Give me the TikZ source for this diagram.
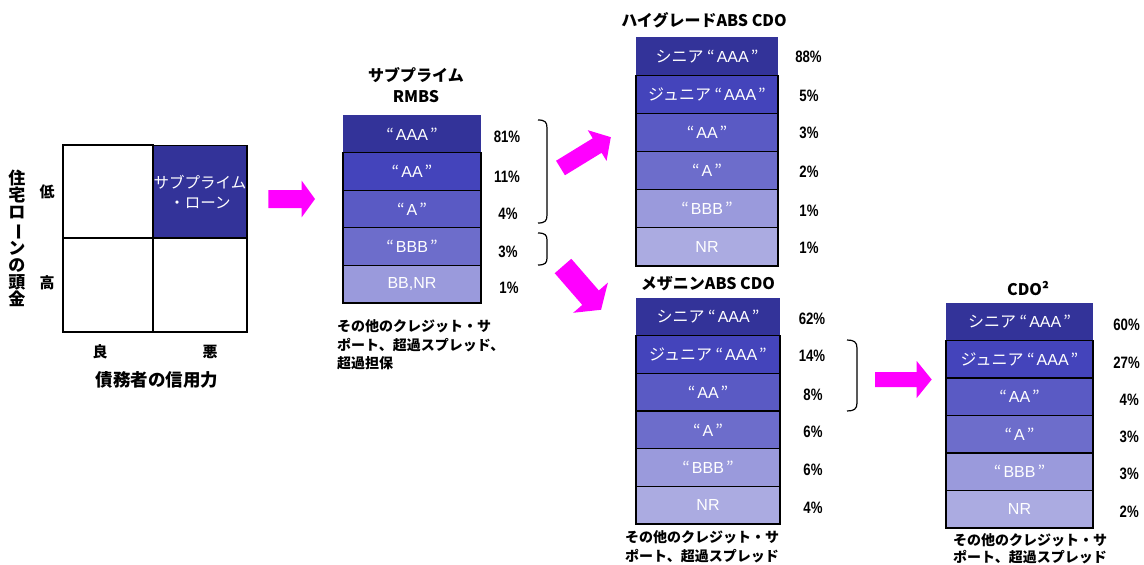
\documentclass[tikz,border=0pt]{standalone}
\usepackage{fontspec}
\setmainfont{Noto Sans CJK JP}
\newfontfamily\pctfont{Liberation Sans}[FakeStretch=0.8]
\newfontfamily\latfont{Liberation Sans}
\usepackage{graphicx}
\definecolor{tA}{HTML}{333399}
\definecolor{tB}{HTML}{4444BB}
\definecolor{tC}{HTML}{5A5AC4}
\definecolor{tD}{HTML}{6D6DCB}
\definecolor{tE}{HTML}{9A9ADC}
\definecolor{tF}{HTML}{ABABE1}
\definecolor{arrowmag}{HTML}{FF00FF}
\newcommand\blockarrow[7]{\fill[arrowmag, shift={(#1,#2)}, rotate=#3] (0,-#5/2) -- (#4-#7,-#5/2) -- (#4-#7,-#6/2) -- (#4,0) -- (#4-#7,#6/2) -- (#4-#7,#5/2) -- (0,#5/2) -- cycle;}
\newcommand\q[1]{“\hspace{2pt}{\latfont #1}\hspace{2pt}”}
\begin{document}
\begin{tikzpicture}[x=1pt,y=-1pt,
  tranche/.style={rectangle, draw=black, line width=1.2pt, inner sep=0pt, text=white, font=\fontsize{16}{18}\selectfont},
  toptr/.style={tranche, draw=none},
  rm/.style={minimum width=138pt, minimum height=37.6pt},
  hg/.style={minimum width=142pt, minimum height=38.17pt},
  mz/.style={minimum width=144pt, minimum height=37.67pt},
  cd/.style={minimum width=147pt, minimum height=37.5pt},
  pct/.style={inner sep=0pt, font=\pctfont\bfseries\fontsize{16.5}{18}\selectfont},
  ttl/.style={inner sep=0pt, font=\bfseries\fontsize{16}{19}\selectfont},
  note/.style={inner sep=0pt, anchor=west, font=\bfseries\fontsize{14}{16}\selectfont},
  axlab/.style={inner sep=0pt, font=\bfseries\fontsize{15}{17}\selectfont},
  cell/.style={rectangle, draw=black, line width=1.5pt, inner sep=0pt},
  brk/.style={draw=black, line width=1.2pt}
]
\useasboundingbox (0,0) rectangle (1144,565);

% ---------- grid ----------
\node[cell, minimum width=90pt, minimum height=93pt] (c11) at (108,191.5) {};
\node[cell, minimum width=94pt, minimum height=93pt, fill=tA, text=white, align=center,
      font=\fontsize{15.5}{20}\selectfont] (c12) at (200,192) {サブプライム\\・ローン};
\node[cell, minimum width=90pt, minimum height=94pt] (c21) at (108,285) {};
\node[cell, minimum width=94pt, minimum height=94pt] (c22) at (200,285) {};
\node[axlab] (low) at (47,192) {低};
\node[axlab] (high) at (47,283) {高};
\node[axlab] (good) at (100,352) {良};
\node[axlab] (bad) at (210,352) {悪};
\node[inner sep=0pt, font=\bfseries\fontsize{17.5}{19}\selectfont] (xlab) at (157,380) {債務者の信用力};
\node[inner sep=0pt, align=center, font=\bfseries\fontsize{17}{17.1}\selectfont] (ylab) at (17,238.5)
  {住\\宅\\ロ\\\rotatebox[origin=c]{-90}{ー}\\ン\\の\\頭\\金};

% ---------- arrows ----------
\blockarrow{268.3}{199}{0}{46.7}{18}{36.6}{13.3}
\blockarrow{560.5}{168}{31.5}{59}{17}{36}{16}
\blockarrow{563}{266}{-49}{58}{22}{46}{16}
\blockarrow{875}{379.5}{0}{56.7}{15}{37}{15}

% ---------- RMBS ----------
\node[ttl] (rmt1) at (416,75) {サブプライム};
\node[ttl] (rmt2) at (416,97) {RMBS};
\node[toptr, rm, fill=tA] (rm1) at (412,133.8) {\q{AAA}};
\node[tranche, rm, fill=tB] (rm2) at (412,171.4) {\q{AA}};
\node[tranche, rm, fill=tC] (rm3) at (412,209.0) {\q{A}};
\node[tranche, rm, fill=tD] (rm4) at (412,246.6) {\q{BBB}};
\node[tranche, rm, fill=tE, font=\latfont\fontsize{16}{18}\selectfont] (rm5) at (412,284.2) {BB,NR};
\node[pct] (rmp1) at (507,137) {81\%};
\node[pct] (rmp2) at (507,177) {11\%};
\node[pct] (rmp3) at (508,214) {4\%};
\node[pct] (rmp4) at (508,252) {3\%};
\node[pct] (rmp5) at (509,288) {1\%};
\node[note] (rmn1) at (337,326.5) {その他のクレジット・サ};
\node[note] (rmn2) at (337,345) {ポート、超過スプレッド、};
\node[note] (rmn3) at (337,363.5) {超過担保};
\draw[brk] (538,120) .. controls (545,120) and (547,122) .. (547,128) -- (547,215) .. controls (547,221) and (545,223) .. (538,223);
\draw[brk] (538,233) .. controls (545,233) and (547,235) .. (547,240) -- (547,258) .. controls (547,263) and (545,265) .. (538,265);

% ---------- High grade ABS CDO ----------
\node[ttl] (hgt) at (704,20) {ハイグレードABS CDO};
\node[toptr, hg, fill=tA] (hg1) at (707,56.1) {シニア \q{AAA}};
\node[tranche, hg, fill=tB] (hg2) at (707,94.25) {ジュニア \q{AAA}};
\node[tranche, hg, fill=tC] (hg3) at (707,132.4) {\q{AA}};
\node[tranche, hg, fill=tD] (hg4) at (707,170.6) {\q{A}};
\node[tranche, hg, fill=tE] (hg5) at (707,208.75) {\q{BBB}};
\node[tranche, hg, fill=tF, font=\latfont\fontsize{16}{18}\selectfont] (hg6) at (707,246.9) {NR};
\node[pct] (hgp1) at (808.5,57) {88\%};
\node[pct] (hgp2) at (809,96) {5\%};
\node[pct] (hgp3) at (809,133) {3\%};
\node[pct] (hgp4) at (809,172) {2\%};
\node[pct] (hgp5) at (809,211) {1\%};
\node[pct] (hgp6) at (809,248) {1\%};

% ---------- Mezzanine ABS CDO ----------
\node[ttl] (mzt) at (708,284) {メザニンABS CDO};
\node[toptr, mz, fill=tA] (mz1) at (708,316.8) {シニア \q{AAA}};
\node[tranche, mz, fill=tB] (mz2) at (708,354.5) {ジュニア \q{AAA}};
\node[tranche, mz, fill=tC] (mz3) at (708,392.2) {\q{AA}};
\node[tranche, mz, fill=tD] (mz4) at (708,429.8) {\q{A}};
\node[tranche, mz, fill=tE] (mz5) at (708,467.5) {\q{BBB}};
\node[tranche, mz, fill=tF, font=\latfont\fontsize{16}{18}\selectfont] (mz6) at (708,505.2) {NR};
\node[pct] (mzp1) at (812,319) {62\%};
\node[pct] (mzp2) at (812,356) {14\%};
\node[pct] (mzp3) at (813,395) {8\%};
\node[pct] (mzp4) at (813,432) {6\%};
\node[pct] (mzp5) at (813,470) {6\%};
\node[pct] (mzp6) at (813,508) {4\%};
\node[note] (mzn1) at (625,537) {その他のクレジット・サ};
\node[note] (mzn2) at (625,556) {ポート、超過スプレッド};
\draw[brk] (847,340) .. controls (854,340) and (857,342) .. (857,348) -- (857,403) .. controls (857,409) and (854,411) .. (847,411);

% ---------- CDO^2 ----------
\node[ttl] (cdt) at (1028,289) {CDO²};
\node[toptr, cd, fill=tA] (cd1) at (1019.5,321.75) {シニア \q{AAA}};
\node[tranche, cd, fill=tB] (cd2) at (1019.5,359.25) {ジュニア \q{AAA}};
\node[tranche, cd, fill=tC] (cd3) at (1019.5,396.75) {\q{AA}};
\node[tranche, cd, fill=tD] (cd4) at (1019.5,434.25) {\q{A}};
\node[tranche, cd, fill=tE] (cd5) at (1019.5,471.75) {\q{BBB}};
\node[tranche, cd, fill=tF, font=\latfont\fontsize{16}{18}\selectfont] (cd6) at (1019.5,509.25) {NR};
\node[pct, anchor=east] (cdp1) at (1140,325) {60\%};
\node[pct, anchor=east] (cdp2) at (1140,363) {27\%};
\node[pct, anchor=east] (cdp3) at (1139,400) {4\%};
\node[pct, anchor=east] (cdp4) at (1139,437) {3\%};
\node[pct, anchor=east] (cdp5) at (1139,474) {3\%};
\node[pct, anchor=east] (cdp6) at (1139,512) {2\%};
\node[note] (cdn1) at (953,540) {その他のクレジット・サ};
\node[note] (cdn2) at (953,557.5) {ポート、超過スプレッド};
\end{tikzpicture}
\end{document}
